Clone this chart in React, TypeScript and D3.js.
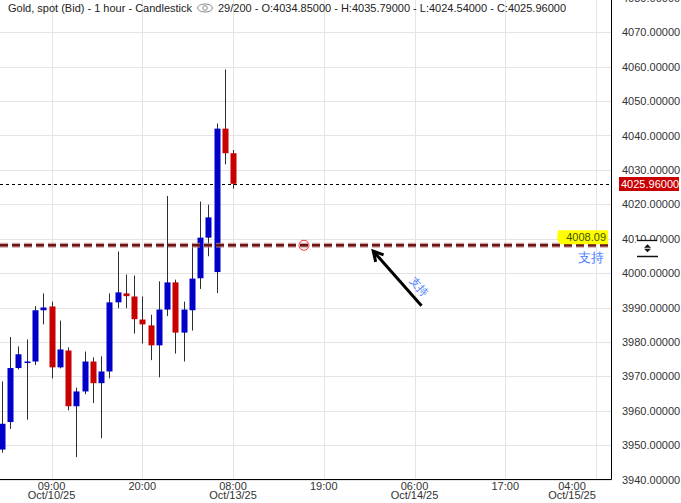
import React from "react";
import * as d3 from "d3";

// Candle data (1 hour), index 0 = 09:00 Oct/10/25
const candleIndex = [-6,-5,-4,-3,-2,-1,0,1,2,3,4,5,6,7,8,9,10,11,12,13,14,15,16,17,18,19,20,21,22];
const opens  = [3948.7,3956.7,3972.4,3974.0,3974.3,3989.2,3990.3,3972.6,3977.5,3961.3,3965.6,3974.3,3968.0,3971.4,3991.5,3994.1,3993.2,3986.5,3984.8,3979.0,3989.4,3997.3,3982.7,3989.2,3998.5,4010.3,4000.3,4042.0,4034.85];
const highs  = [3968.5,3981.4,3978.7,3980.7,3990.4,3994.1,3991.7,3986.2,3978.4,3966.7,3977.2,3975.5,3975.8,3994.1,4006.3,3999.6,3999.3,3993.2,3987.9,3997.6,4022.4,3998.1,3991.7,4008.6,4020.8,4019.9,4043.5,4059.2,4035.79];
const lows   = [3947.8,3954.7,3972.0,3957.4,3973.3,3985.1,3969.4,3972.3,3960.1,3946.5,3964.8,3962.2,3952.0,3969.4,3989.8,3989.8,3982.4,3979.5,3974.7,3969.7,3987.5,3976.6,3974.3,3983.3,3995.4,4004.9,3994.2,4031.6,4024.54];
const closes = [3956.2,3972.4,3976.4,3974.3,3989.2,3990.0,3972.6,3977.8,3961.3,3965.6,3974.3,3968.0,3971.4,3991.5,3994.4,3993.3,3986.6,3985.1,3979.0,3989.4,3997.3,3982.7,3989.4,3998.4,4010.3,4016.2,4042.0,4034.85,4025.96];

const yTicks = [3940,3950,3960,3970,3980,3990,4000,4010,4020,4030,4040,4050,4060,4070,4080];
const xTickIndex = [0,11,22,33,44,55,66];
const xTickTimes = ["09:00","20:00","08:00","19:00","06:00","17:00","04:00"];
const xTickDates = ["Oct/10/25","","Oct/13/25","","Oct/14/25","","Oct/15/25"];

const lastPrice = 4025.96;
const supportLevel = 4008.09;
const supportLabel = "支持";
const circleAt = { i: 30.6, v: 4008.09 };
const arrowFrom = { i: 44.85, v: 3990.5 };
const arrowTo = { i: 39.0, v: 4006.4 };

const headerLeft = "Gold, spot (Bid) - 1 hour - Candlestick";
const headerRight = "29/200 - O:4034.85000 - H:4035.79000 - L:4024.54000 - C:4025.96000";

const W = 681, H = 503;
const plotRight = 611.5;
const plotBottom = 479.5;
const FONT = "'Liberation Sans', Arial, sans-serif";

export default function App() {
  const x = d3.scaleLinear().domain([0, 66]).range([51.5, 596]);
  const y = d3.scaleLinear().domain([3940, 4070]).range([plotBottom, 32.3]);

  const ax1 = x(arrowFrom.i), ay1 = y(arrowFrom.v);
  const ax2 = x(arrowTo.i), ay2 = y(arrowTo.v);
  const ang = Math.atan2(ay1 - ay2, ax1 - ax2);
  const headLen = 11;
  const h1 = [ax2 + headLen * Math.cos(ang - 0.5), ay2 + headLen * Math.sin(ang - 0.5)];
  const h2 = [ax2 + headLen * Math.cos(ang + 0.5), ay2 + headLen * Math.sin(ang + 0.5)];
  const angDeg = (ang * 180) / Math.PI;
  const tx = ax2 + (ax1 - ax2) * 0.78 + 10 * Math.sin(ang);
  const ty = ay2 + (ay1 - ay2) * 0.78 - 10 * Math.cos(ang);

  const ySup = y(supportLevel);
  const yLast = y(lastPrice);

  return (
    <svg width={W} height={H} style={{ position: "fixed", left: 0, top: 0, background: "#fff" }} fontFamily={FONT}>
      <defs>
        <clipPath id="plot"><rect x={0} y={0} width={plotRight} height={plotBottom} /></clipPath>
      </defs>
      <rect x={0} y={0} width={W} height={H} fill="#fff" />
      {/* grid */}
      <g stroke="#e4e4e4" strokeWidth={1}>
        {yTicks.map((v) => (
          <line key={"gy" + v} x1={0} x2={plotRight} y1={Math.round(y(v)) + 0.5} y2={Math.round(y(v)) + 0.5} />
        ))}
        {xTickIndex.map((i) => (
          <line key={"gx" + i} x1={Math.round(x(i)) + 0.5} x2={Math.round(x(i)) + 0.5} y1={0} y2={plotBottom} />
        ))}
      </g>
      {/* header */}
      <text x={8} y={12} fontSize={11} fill="#222">{headerLeft}</text>
      <g stroke="#8a8a8a" fill="none" strokeWidth={1}>
        <ellipse cx={205} cy={8} rx={7.5} ry={4} />
        <circle cx={205} cy={8} r={2.3} />
      </g>
      <text x={218} y={12} fontSize={11} fill="#222">{headerRight}</text>

      <g clipPath="url(#plot)">
        {/* last price line */}
        <line x1={0} x2={plotRight} y1={Math.round(yLast) + 0.5} y2={Math.round(yLast) + 0.5} stroke="#000" strokeWidth={1} strokeDasharray="3,3" />
        {/* candles */}
        {candleIndex.map((ci, k) => {
          const cx = Math.round(x(ci));
          const o = opens[k], c = closes[k];
          const up = c >= o;
          const top = y(Math.max(o, c));
          const bot = y(Math.min(o, c));
          const hgt = Math.max(1.5, bot - top);
          return (
            <g key={"c" + ci}>
              <line x1={cx + 0.5} x2={cx + 0.5} y1={y(highs[k])} y2={y(lows[k])} stroke="#2b2f33" strokeWidth={1} />
              <rect x={cx - 2.5} y={top} width={6} height={hgt} fill={up ? "#0000c8" : "#c80000"} />
            </g>
          );
        })}
        {/* support line */}
        <line x1={0} x2={plotRight} y1={ySup} y2={ySup} stroke="#b88080" strokeOpacity={0.7} strokeWidth={5} strokeDasharray="8,4" />
        <line x1={0} x2={plotRight} y1={ySup} y2={ySup} stroke="#6a1414" strokeWidth={2.5} strokeDasharray="8,4" />
        <circle cx={x(circleAt.i)} cy={y(circleAt.v)} r={5} fill="none" stroke="#ff3030" strokeWidth={1} />
        {/* arrow */}
        <line x1={ax1} y1={ay1} x2={ax2} y2={ay2} stroke="#000" strokeWidth={3} />
        <polyline points={`${h1[0]},${h1[1]} ${ax2},${ay2} ${h2[0]},${h2[1]}`} fill="none" stroke="#000" strokeWidth={3} strokeLinejoin="miter" />
        <text x={tx} y={ty} fontSize={11} fill="#4a7dff" textAnchor="middle" dominantBaseline="middle" transform={`rotate(${angDeg} ${tx} ${ty})`}>{supportLabel}</text>
        {/* support label */}
        <path d={`M558,${ySup - 15} L608,${ySup - 15} L608,${ySup - 1} L560,${ySup - 1} L557,${ySup - 6} Z`} fill="#ffff00" />
        <text x={606} y={ySup - 4} fontSize={11} fill="#3f5200" textAnchor="end">{supportLevel.toFixed(2)}</text>
        <text x={604} y={ySup + 17} fontSize={13} fill="#4a7dff" textAnchor="end">{supportLabel}</text>
      </g>

      {/* axes lines */}
      <line x1={plotRight} x2={plotRight} y1={0} y2={plotBottom} stroke="#000" strokeWidth={1} />
      <line x1={0} x2={plotRight} y1={plotBottom} y2={plotBottom} stroke="#000" strokeWidth={1} />

      {/* y labels */}
      {yTicks.map((v) => (
        <text key={"yl" + v} x={622} y={y(v) + 4} fontSize={11} fill="#333">{v.toFixed(5)}</text>
      ))}
      {/* last price tag */}
      <rect x={619} y={Math.round(yLast) - 7} width={60} height={14} fill="#c80000" />
      <text x={621} y={yLast + 4} fontSize={11} fill="#fff">{lastPrice.toFixed(5)}</text>
      {/* icon over axis */}
      <rect x={636} y={Math.round(ySup) - 4} width={24} height={18} fill="#fff" />
      <line x1={637} x2={657} y1={Math.round(ySup) - 4.5} y2={Math.round(ySup) - 4.5} stroke="#111" strokeWidth={1.3} />
      <path d={`M647.5,${ySup - 1} L651,${ySup + 2.5} L644,${ySup + 2.5} Z`} fill="#111" />
      <path d={`M647.5,${ySup + 7} L651,${ySup + 3.5} L644,${ySup + 3.5} Z`} fill="#111" />
      <line x1={637} x2={658} y1={Math.round(ySup) + 11.5} y2={Math.round(ySup) + 11.5} stroke="#111" strokeWidth={1.5} />

      {/* x labels */}
      {xTickIndex.map((i, k) => {
        const gx = Math.min(x(i), 572);
        return (
          <g key={"xl" + i}>
            <text x={gx} y={490} fontSize={11} fill="#333" textAnchor="middle">{xTickTimes[k]}</text>
            {xTickDates[k] && <text x={gx} y={499} fontSize={11} fill="#333" textAnchor="middle">{xTickDates[k]}</text>}
          </g>
        );
      })}
    </svg>
  );
}
